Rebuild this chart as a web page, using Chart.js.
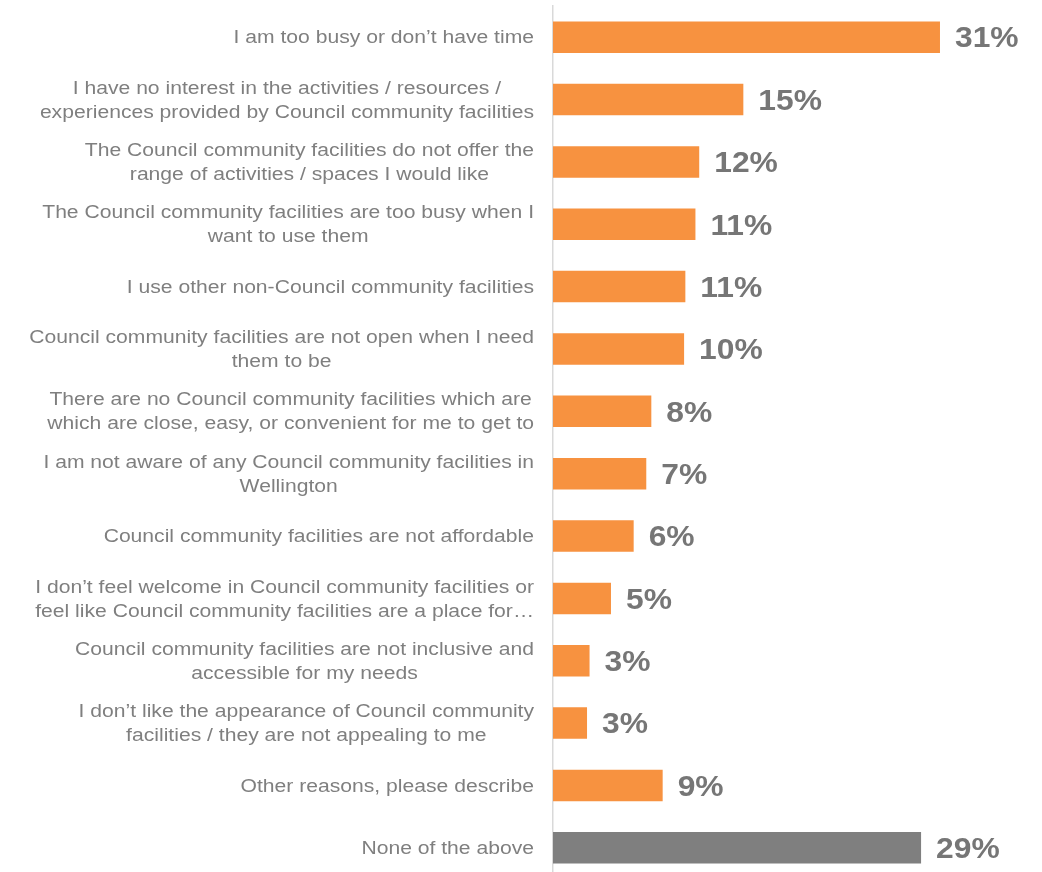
<!DOCTYPE html>
<html>
<head>
<meta charset="utf-8">
<script src="https://cdn.jsdelivr.net/npm/chart.js@4"></script>
<style>
  html, body { margin: 0; padding: 0; background: #fff; overflow: hidden; }
  #wrap { position: relative; width: 1042px; height: 880px; }
</style>
</head>
<body>
<div id="wrap"><canvas id="reasonsChart"></canvas></div>
<script>
// Reasons for not using Council community facilities
const categories = [
  ["I am too busy or don\u2019t have time"],
  ["I have no interest in the activities / resources /", "experiences provided by Council community facilities"],
  ["The Council community facilities do not offer the", "range of activities / spaces I would like"],
  ["The Council community facilities are too busy when I", "want to use them"],
  ["I use other non-Council community facilities"],
  ["Council community facilities are not open when I need", "them to be"],
  ["There are no Council community facilities which are", "which are close, easy, or convenient for me to get to"],
  ["I am not aware of any Council community facilities in", "Wellington"],
  ["Council community facilities are not affordable"],
  ["I don\u2019t feel welcome in Council community facilities or", "feel like Council community facilities are a place for\u2026"],
  ["Council community facilities are not inclusive and", "accessible for my needs"],
  ["I don\u2019t like the appearance of Council community", "facilities / they are not appealing to me"],
  ["Other reasons, please describe"],
  ["None of the above"],
];
const values = [30.7, 15.1, 11.6, 11.3, 10.5, 10.4, 7.8, 7.4, 6.4, 4.6, 2.9, 2.7, 8.7, 29.2];
const barColors = [
  "#f79240", "#f79240", "#f79240", "#f79240", "#f79240", "#f79240", "#f79240",
  "#f79240", "#f79240", "#f79240", "#f79240", "#f79240", "#f79240", "#7f7f7f",
];

const FONT = "'Liberation Sans', Arial, sans-serif";

// text in the original is a little wider than plain Arial
function wideText(ctx, text, x, y, sx) {
  ctx.save();
  ctx.translate(x, y);
  ctx.scale(sx, 1);
  ctx.fillText(text, 0, 0);
  ctx.restore();
}

// Draws the wrapped category labels (block right aligned, lines centred)
// and the bold percentage labels after each bar
const labelPlugin = {
  id: "labelPlugin",
  afterDatasetsDraw(chart) {
    const ctx = chart.ctx;
    const yScale = chart.scales.y;
    const meta = chart.getDatasetMeta(0);
    const rightEdge = chart.chartArea.left - 19;
    const lineH = 24;
    const sx = 1.13;

    ctx.save();
    ctx.textBaseline = "middle";

    ctx.font = "18.7px " + FONT;
    ctx.fillStyle = "#7f7f7f";
    ctx.textAlign = "center";
    categories.forEach((lines, i) => {
      const y = yScale.getPixelForValue(i);
      const maxW = Math.max(...lines.map((l) => ctx.measureText(l).width)) * sx;
      const cx = rightEdge - maxW / 2;
      const top = y - ((lines.length - 1) * lineH) / 2;
      lines.forEach((line, j) => wideText(ctx, line, cx, top + j * lineH + 1, sx));
    });

    ctx.font = "bold 30px " + FONT;
    ctx.fillStyle = "#767676";
    ctx.textAlign = "left";
    meta.data.forEach((bar, i) => {
      wideText(ctx, Math.round(values[i]) + "%", bar.x + 15, bar.y + 2, 1.06);
    });
    ctx.restore();
  },
};

new Chart(document.getElementById("reasonsChart"), {
  type: "bar",
  data: {
    labels: categories.map((c) => c.join(" ")),
    datasets: [
      {
        data: values,
        backgroundColor: barColors,
        borderWidth: 0,
        barPercentage: 0.505,
        categoryPercentage: 1,
      },
    ],
  },
  options: {
    indexAxis: "y",
    responsive: true,
    maintainAspectRatio: false,
    animation: false,
    layout: {
      padding: { top: 6, right: 10, bottom: 1, left: 0 },
    },
    plugins: {
      legend: { display: false },
      tooltip: { enabled: false },
    },
    scales: {
      x: {
        display: false,
        min: 0,
        max: 38,
      },
      y: {
        grid: { display: false, drawTicks: false },
        border: { display: true, color: "#d9d9d9", width: 1.5 },
        ticks: { display: false },
        afterFit(scale) {
          scale.width = 553;
        },
      },
    },
  },
  plugins: [labelPlugin],
});
</script>
</body>
</html>
